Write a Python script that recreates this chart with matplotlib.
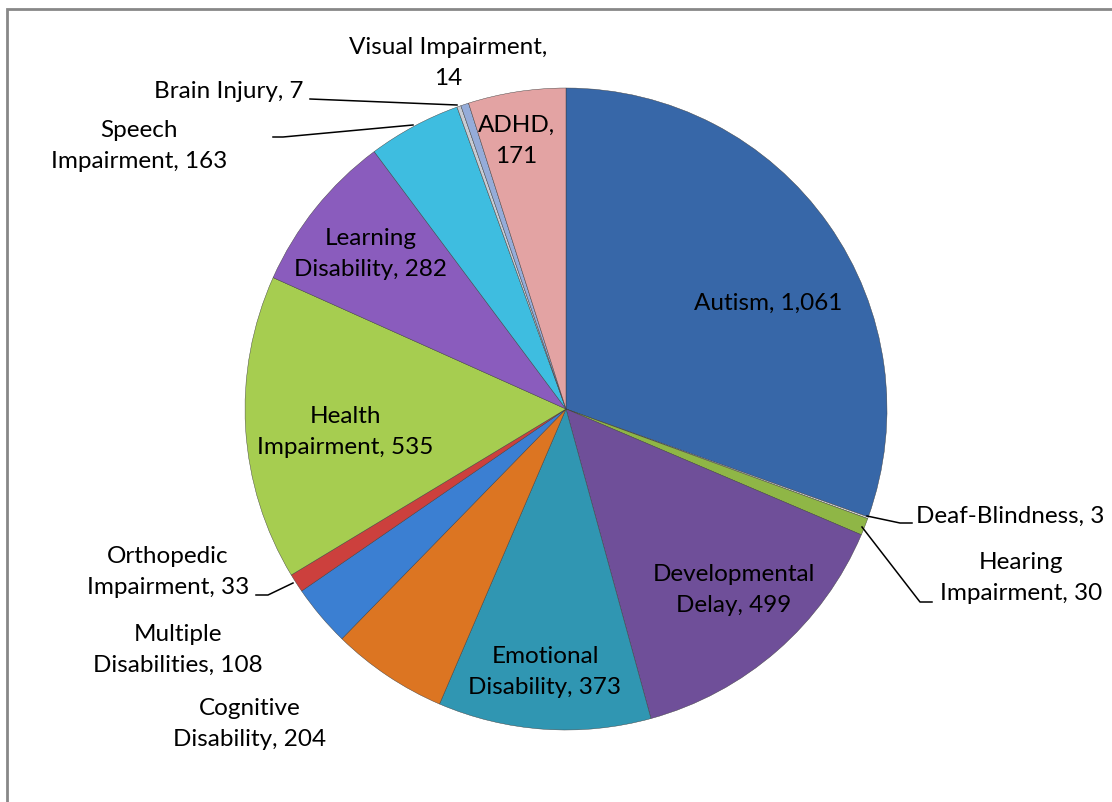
import matplotlib
matplotlib.use('Agg')
import matplotlib.pyplot as plt

plt.rcParams['font.family'] = ['Lato', 'DejaVu Sans']

# values, clockwise from 12 o'clock
categories = ['Autism', 'Deaf-Blindness', 'Hearing Impairment', 'Developmental Delay',
              'Emotional Disability', 'Cognitive Disability', 'Multiple Disabilities',
              'Orthopedic Impairment', 'Health Impairment', 'Learning Disability',
              'Speech Impairment', 'Brain Injury', 'Visual Impairment', 'ADHD']
counts = [1061, 3, 30, 499, 373, 204, 108, 33, 535, 282, 163, 7, 14, 171]
labels = ['Autism, 1,061', 'Deaf-Blindness, 3', 'Hearing\nImpairment, 30',
          'Developmental\nDelay, 499', 'Emotional\nDisability, 373', 'Cognitive\nDisability, 204',
          'Multiple\nDisabilities, 108', 'Orthopedic\nImpairment, 33', 'Health\nImpairment, 535',
          'Learning\nDisability, 282', 'Speech\nImpairment, 163', 'Brain Injury, 7',
          'Visual Impairment,\n14', 'ADHD,\n171']
colors = ['#3767a8', '#d9d9d9', '#8fb646', '#6f4f99', '#3096b2', '#dc7522', '#3b7fd2',
          '#cc403d', '#a6cd50', '#8a5cbd', '#3ebde0', '#c8ccd4', '#95acd9', '#e3a3a3']

W, H = 1112, 802


def px(x, y):
    # pixel position (origin top-left) -> data coords
    return x, H - y


fig = plt.figure(figsize=(W / 100, H / 100), dpi=100)
ax = fig.add_axes([0, 0, 1, 1])

ax.pie(counts, colors=colors, startangle=90, counterclock=False,
       center=px(566, 409), radius=321,
       wedgeprops=dict(edgecolor='#3a3a3a', linewidth=0.3))
ax.set_xlim(0, W)
ax.set_ylim(0, H)
ax.set_aspect('auto')
ax.axis('off')

label_pos = {
    'Autism': (768, 303),
    'Deaf-Blindness': (1010, 516),
    'Hearing Impairment': (1021, 578),
    'Developmental Delay': (734, 590),
    'Emotional Disability': (545, 672),
    'Cognitive Disability': (250, 724),
    'Multiple Disabilities': (178, 650),
    'Orthopedic Impairment': (168, 572),
    'Health Impairment': (345, 432),
    'Learning Disability': (371, 254),
    'Speech Impairment': (139, 146),
    'Brain Injury': (229, 91),
    'Visual Impairment': (448, 63),
    'ADHD': (516, 141),
}
for cat, lab in zip(categories, labels):
    x, y = px(*label_pos[cat])
    ax.text(x, y, lab, ha='center', va='center', fontsize=17.5,
            linespacing=1.6, color='black')

leaders = [
    [(867, 516), (900, 523), (912, 523)],
    [(862, 527), (920, 602), (932, 602)],
    [(293, 583), (268, 595), (256, 595)],
    [(457, 105), (310, 99)],
    [(413, 125), (283, 137), (273, 137)],
]
for pts in leaders:
    xs = [p[0] for p in pts]
    ys = [H - p[1] for p in pts]
    ax.plot(xs, ys, color='black', linewidth=1.1)

# chart border (only left and top edges visible)
ax.plot([7, 7, W], [0, H - 9, H - 9], color='#888888', linewidth=2,
        solid_capstyle='butt', solid_joinstyle='miter')

fig.savefig('out.png', dpi=100)
